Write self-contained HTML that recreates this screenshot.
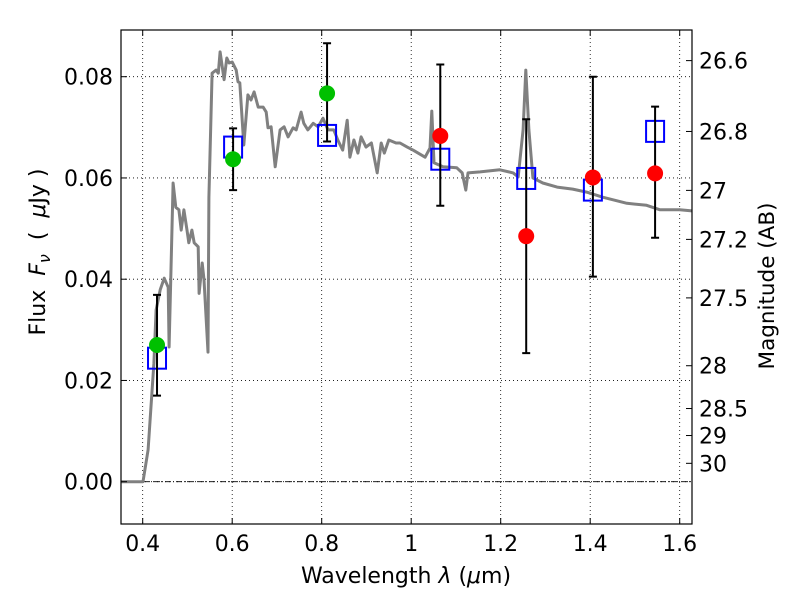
<!DOCTYPE html>
<html><head><meta charset="utf-8"><style>
body{margin:0;background:#fff}
svg text{font-family:"DejaVu Sans","Liberation Sans",sans-serif;fill:#000}
</style></head><body>
<svg id="chart" width="800" height="600" xmlns="http://www.w3.org/2000/svg">
<rect width="800" height="600" fill="#fff"/>
<g id="grid"></g>
<g id="spec"></g>
<g id="marks"></g>
<g id="axes"></g>
<text x="406" y="583" font-size="22" text-anchor="middle">Wavelength  <tspan font-style="italic">λ</tspan> (<tspan font-style="italic">μ</tspan>m)</text>
<text transform="translate(45,252) rotate(-90)" font-size="22" text-anchor="middle" xml:space="preserve">Flux  <tspan font-style="italic">F</tspan><tspan font-style="italic" font-size="16" dy="5">ν</tspan><tspan dy="-5">  (  </tspan><tspan font-style="italic">μ</tspan>Jy )</text>
<text transform="translate(774,286) rotate(-90)" font-size="21.5" text-anchor="middle">Magnitude (AB)</text>
</svg>
<script>
const specLam=[0.3515,0.4007,0.412,0.425,0.430,0.439,0.448,0.457,0.459,0.468,0.474,0.481,0.486,0.492,0.499,0.503,0.510,0.515,0.524,0.526,0.533,0.537,0.546,0.548,0.555,0.564,0.569,0.573,0.582,0.588,0.593,0.600,0.609,0.613,0.617,0.626,0.635,0.642,0.649,0.658,0.669,0.676,0.680,0.687,0.696,0.707,0.716,0.725,0.736,0.743,0.754,0.760,0.769,0.781,0.792,0.803,0.814,0.827,0.836,0.847,0.857,0.863,0.872,0.881,0.888,0.899,0.911,0.924,0.933,0.940,0.950,0.966,0.975,0.991,1.004,1.031,1.042,1.046,1.051,1.071,1.102,1.114,1.122,1.127,1.154,1.198,1.228,1.239,1.250,1.256,1.263,1.272,1.294,1.326,1.361,1.392,1.428,1.482,1.526,1.556,1.600,1.627];
const specFlux=[0,0,0.0063,0.0234,0.0339,0.0379,0.0402,0.0384,0.0266,0.0590,0.0542,0.0537,0.0497,0.0537,0.0497,0.0472,0.0497,0.0472,0.0464,0.0372,0.0432,0.0399,0.0256,0.0562,0.0807,0.0813,0.0807,0.0849,0.0794,0.0837,0.0827,0.0829,0.0813,0.0790,0.0788,0.0665,0.0764,0.0754,0.0770,0.0740,0.0740,0.0730,0.0699,0.0701,0.0622,0.0695,0.0701,0.0681,0.0699,0.0695,0.0730,0.0708,0.0695,0.0708,0.0701,0.0718,0.0695,0.0695,0.0675,0.0655,0.0714,0.0641,0.0675,0.0649,0.0681,0.0661,0.0669,0.0610,0.0669,0.0649,0.0675,0.0669,0.0669,0.0661,0.0655,0.0641,0.0659,0.0732,0.0630,0.0622,0.0620,0.0610,0.0576,0.0610,0.0612,0.0616,0.0610,0.0602,0.0695,0.0813,0.0695,0.0600,0.0590,0.0582,0.0578,0.0572,0.0562,0.0550,0.0546,0.0537,0.0537,0.0535];
const obsLam=[0.432,0.602,0.812,1.065,1.257,1.406,1.545];
const obsFlux=[0.0270,0.0637,0.0767,0.0683,0.0485,0.0601,0.0609];
const obsColor=["#00c000","#00c000","#00c000","#ff0000","#ff0000","#ff0000","#ff0000"];
const errLo=[0.0170,0.0576,0.0672,0.0545,0.0254,0.0405,0.0482];
const errHi=[0.0369,0.0698,0.0866,0.0824,0.0716,0.0800,0.0741];
const modelFlux=[0.0244,0.0661,0.0684,0.0637,0.0599,0.0576,0.0692];
const xTicks=[0.4,0.6,0.8,1.0,1.2,1.4,1.6];
const xTickLabels=["0.4","0.6","0.8","1","1.2","1.4","1.6"];
const yTicks=[0,0.02,0.04,0.06,0.08];
const yTickLabels=["0.00","0.02","0.04","0.06","0.08"];
const magTicks=[26.6,26.8,27,27.2,27.5,28,28.5,29,30];
const magTickLabels=["26.6","26.8","27","27.2","27.5","28","28.5","29","30"];

const L=121,R=692,T=30,B=524;
const X=l=>142.7+(l-0.4)*447.5;
const Y=f=>481.7-f*5062.5;
const NS="http://www.w3.org/2000/svg";
function mk(tag,attrs,parent){const e=document.createElementNS(NS,tag);for(const k in attrs)e.setAttribute(k,attrs[k]);parent.appendChild(e);return e;}
const grid=document.getElementById('grid'),axes=document.getElementById('axes'),spec=document.getElementById('spec'),marks=document.getElementById('marks');

xTicks.forEach((v,i)=>{
  const g=mk('line',{x1:X(v),x2:X(v),y1:T,y2:B,stroke:'#000','stroke-width':0.8,'stroke-dasharray':'1,3'},grid);
  
  
  mk('line',{x1:X(v),x2:X(v),y1:B,y2:B-6,stroke:'#000'},axes);
  mk('line',{x1:X(v),x2:X(v),y1:T,y2:T+6,stroke:'#000'},axes);
  const t=mk('text',{x:X(v),y:B+27,'font-size':22,'text-anchor':'middle'},axes);
  t.textContent=xTickLabels[i];
  
  
});
yTicks.forEach((v,i)=>{
  const g=mk('line',{x1:L,x2:R,y1:Y(v),y2:Y(v),stroke:'#000','stroke-width':0.8,'stroke-dasharray':'1,3'},grid);
  
  
  mk('line',{x1:L,x2:L+6,y1:Y(v),y2:Y(v),stroke:'#000'},axes);
  const t=mk('text',{x:L-8,y:Y(v)+8,'font-size':22,'text-anchor':'end'},axes);
  t.textContent=yTickLabels[i];
  
  
});
const zl=mk('line',{x1:L,x2:R,y1:Y(0),y2:Y(0),stroke:'#000','stroke-width':0.8,'stroke-dasharray':'6,2,1,2'},grid);


magTicks.forEach((m,i)=>{
  const y=Y(Math.pow(10,(23.9-m)/2.5));
  mk('line',{x1:R,x2:R-6,y1:y,y2:y,stroke:'#000'},axes);
  const t=mk('text',{x:R+7,y:y+8,'font-size':22},axes);
  t.textContent=magTickLabels[i];
  
  
});
mk('rect',{x:L,y:T,width:R-L,height:B-T,fill:'none',stroke:'#000','stroke-width':1.2},axes);

let d='';
specLam.forEach((l,i)=>{d+=(i?'L':'M')+X(l).toFixed(1)+','+Y(specFlux[i]).toFixed(1);});
const cp=mk('clipPath',{id:'clip'},spec);mk('rect',{x:L,y:T,width:R-L,height:B-T},cp);
const p=mk('path',{d:d,fill:'none',stroke:'#808080','stroke-width':3,'stroke-linejoin':'round','clip-path':'url(#clip)'},spec);



obsLam.forEach((l,i)=>{
  const x=X(l);
  const s=mk('rect',{x:x-9,y:Y(modelFlux[i])-10.5,width:18,height:21,fill:'none',stroke:'#0000ff','stroke-width':2},marks);
  
  
  const e=mk('path',{d:`M${x},${Y(errLo[i])}V${Y(errHi[i])}M${x-4},${Y(errLo[i])}H${x+4}M${x-4},${Y(errHi[i])}H${x+4}`,stroke:'#000','stroke-width':2,fill:'none'},marks);
  
  
  const c=mk('circle',{cx:x,cy:Y(obsFlux[i]),r:8,fill:obsColor[i]},marks);
  
  
});
</script>
</body></html>
